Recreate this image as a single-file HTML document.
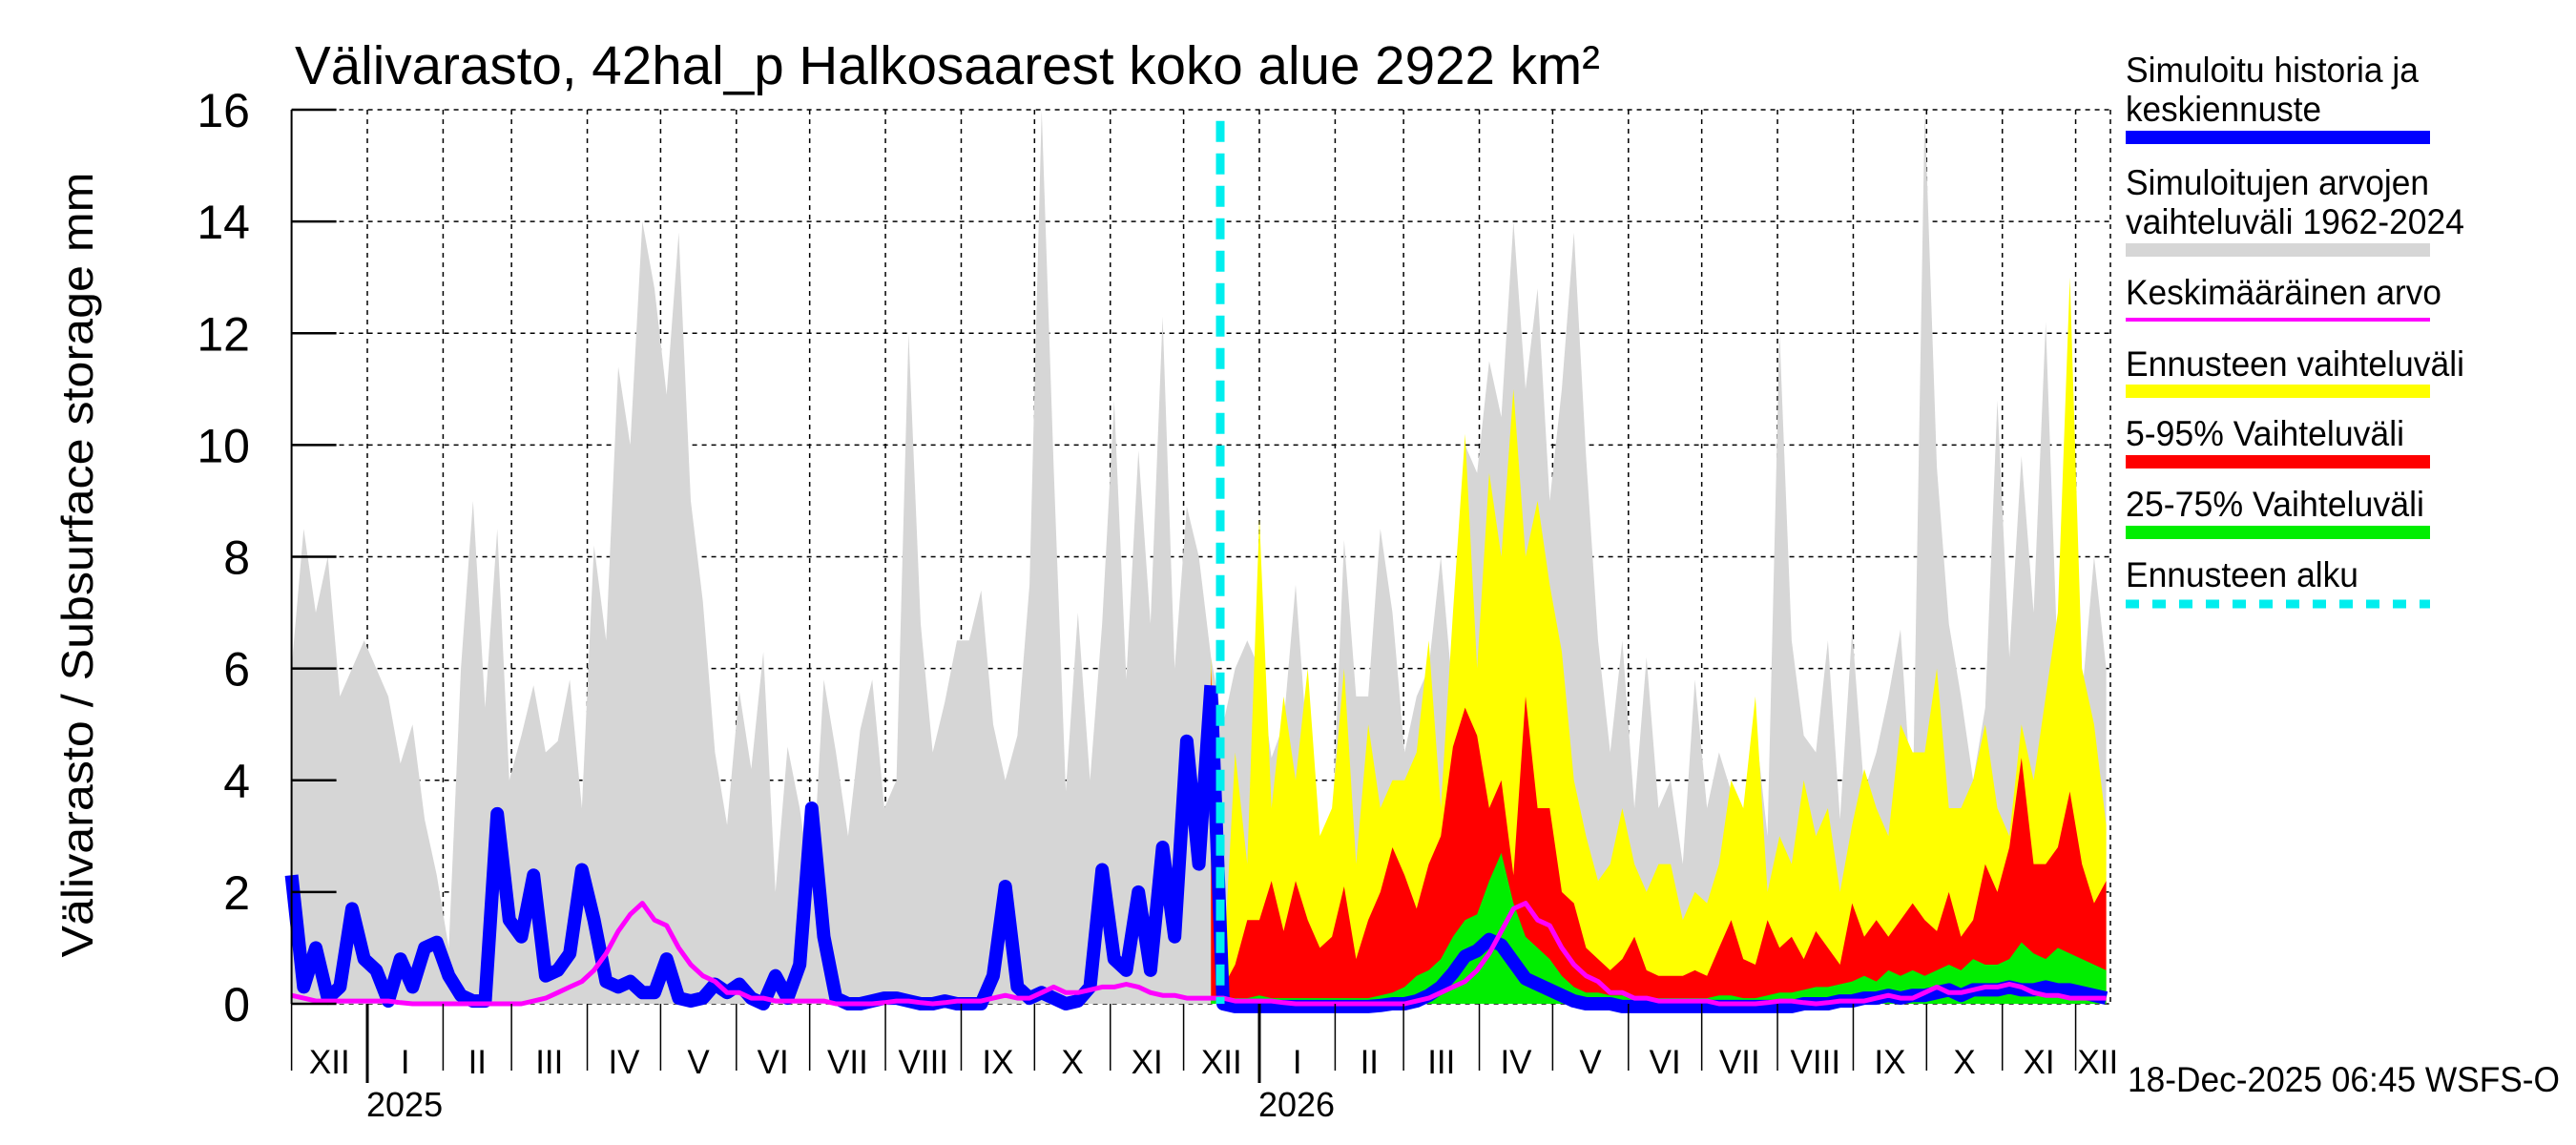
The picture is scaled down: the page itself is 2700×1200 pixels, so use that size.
<!DOCTYPE html>
<html><head><meta charset="utf-8"><style>
html,body{margin:0;padding:0;background:#fff;}
svg{display:block;font-family:"Liberation Sans",Arial,sans-serif;}
</style></head><body>
<svg id="chart" width="2700" height="1200" viewBox="0 0 2700 1200" xmlns="http://www.w3.org/2000/svg">
<text x="309" y="88" font-size="57" textLength="1368" lengthAdjust="spacingAndGlyphs">Välivarasto, 42hal_p Halkosaarest koko alue 2922 km²</text>
<text transform="translate(97,592) rotate(-90)" text-anchor="middle" font-size="46" textLength="823" lengthAdjust="spacingAndGlyphs">Välivarasto / Subsurface storage  mm</text>
<g id="grid"></g>
<g id="series"></g>
<g id="axes"></g>
<g font-size="37">
 <text x="2228" y="86" textLength="307" lengthAdjust="spacingAndGlyphs">Simuloitu historia ja</text>
 <text x="2228" y="127" textLength="205" lengthAdjust="spacingAndGlyphs">keskiennuste</text>
 <rect x="2228" y="137" width="319" height="14" fill="#0000ff"/>
 <text x="2228" y="204" textLength="318" lengthAdjust="spacingAndGlyphs">Simuloitujen arvojen</text>
 <text x="2228" y="245" textLength="355" lengthAdjust="spacingAndGlyphs">vaihteluväli 1962-2024</text>
 <rect x="2228" y="255" width="319" height="14" fill="#d6d6d6"/>
 <text x="2228" y="319" textLength="331" lengthAdjust="spacingAndGlyphs">Keskimääräinen arvo</text>
 <rect x="2228" y="333" width="319" height="4" fill="#ff00ff"/>
 <text x="2228" y="394" textLength="355" lengthAdjust="spacingAndGlyphs">Ennusteen vaihteluväli</text>
 <rect x="2228" y="403" width="319" height="14" fill="#ffff00"/>
 <text x="2228" y="467" textLength="292" lengthAdjust="spacingAndGlyphs">5-95% Vaihteluväli</text>
 <rect x="2228" y="477" width="319" height="14" fill="#ff0000"/>
 <text x="2228" y="541" textLength="313" lengthAdjust="spacingAndGlyphs">25-75% Vaihteluväli</text>
 <rect x="2228" y="551" width="319" height="14" fill="#00ee00"/>
 <text x="2228" y="615" textLength="244" lengthAdjust="spacingAndGlyphs">Ennusteen alku</text>
 <line x1="2228" y1="633" x2="2547" y2="633" stroke="#00eeee" stroke-width="9" stroke-dasharray="14,14"/>
</g>
<text x="2230" y="1144" font-size="37" textLength="453" lengthAdjust="spacingAndGlyphs">18-Dec-2025 06:45 WSFS-O</text>
</svg>
<script>
const yTicks = [0, 2, 4, 6, 8, 10, 12, 14, 16];
const monthLabels = ["XII","I","II","III","IV","V","VI","VII","VIII","IX","X","XI","XII","I","II","III","IV","V","VI","VII","VIII","IX","X","XI","XII"];
const monthDays = [31,31,28,31,30,31,30,31,31,30,31,30,31,31,28,31,30,31,30,31,31,30,31,30,31];
const yearLabels = ["2025","2026"];
const yearStartMonth = [1, 13];
const stepDays = 4.95;
const forecastStartDay = 380;
const forecastStartIndex = 76;
const grayMax = [6,8.5,7,8,5.5,6,6.5, 6,5.5,4.3,5,3.3,2.3, 1,6,9,5.3,8.5,4, 4.8,5.7,4.5,4.7,5.8,3.5, 8.2,6.5,11.4,10,14,12.8, 10.9,13.8,9,7.2,4.5,3.2, 5.6,4.2,6.3,2,4.6,3.5, 2,5.8,4.5,3,4.9,5.8,3.5, 4,12,6.8,4.5,5.4,6.5, 6.5,7.4,5,4,4.8,7.5, 16,9.6,3.8,7,4,6.8, 10.8,5.8,9.9,6.8,12.3,6, 8.9,8,6.2,5,6,6.5,
 6,4.4,5,7.5,4.5,3, 3,8.3,5.5,5.5,8.5,7, 4.5,5.5,6,8,5.5,10, 9.5,11.5,10.5,14,11,12.8, 9,11,13.8,9.8,6.5,4.5, 6.5,3.5,6.2,3.5,4,2.5, 5.8,3.5,4.5,3.8,2.5,5,3, 12,6.5,4.8,4.5,6.5,3.3, 6.7,3.8,4.5,5.5,6.7,3.4, 16,9.6,6.8,5.5,4,5.3, 10.8,6.2,9.8,7,12.2,6, 8.9,5.5,8,6];
const historyBlue = [2.3,0.3,1.0,0.1,0.3,1.7,0.8, 0.6,0.05,0.8,0.3,1.0,1.1, 0.5,0.15,0.05,0.05,3.4,1.5, 1.2,2.3,0.5,0.6,0.9,2.4, 1.5,0.4,0.3,0.4,0.2,0.2, 0.8,0.1,0.05,0.1,0.35,0.2, 0.35,0.1,0.0,0.5,0.1,0.7, 3.5,1.2,0.1,0,0,0.05,0.1, 0.1,0.05,0,0,0.05,0, 0,0,0.5,2.1,0.3,0.1, 0.2,0.1,0,0.05,0.3,2.4, 0.8,0.6,2.0,0.6,2.8,1.2, 4.7,2.5,5.7];
const meanValues = [0.15,0.1,0.05,0.05,0.05,0.05,0.05, 0.05,0.05,0.02,0,0,0, 0,0,0,0,0,0, 0,0.05,0.1,0.2,0.3,0.4, 0.6,0.9,1.3,1.6,1.8,1.5, 1.4,1.0,0.7,0.5,0.4,0.2, 0.2,0.1,0.1,0.05,0.05,0.05, 0.05,0.05,0,0,0,0,0.02, 0.05,0.05,0.02,0,0.02,0.05, 0.05,0.05,0.1,0.15,0.1,0.1, 0.2,0.3,0.2,0.2,0.25,0.3, 0.3,0.35,0.3,0.2,0.15,0.15, 0.1,0.1,0.1,0.1,0.05,0.05,
 0.05,0.05,0.02,0,0,0, 0,0,0,0,0,0, 0,0.05,0.1,0.2,0.3,0.4, 0.6,0.9,1.3,1.7,1.8,1.5, 1.4,1.0,0.7,0.5,0.4,0.2, 0.2,0.1,0.1,0.05,0.05,0.05, 0.05,0.05,0,0,0,0,0.02, 0.05,0.05,0.02,0,0.02,0.05, 0.05,0.05,0.1,0.15,0.1,0.1, 0.2,0.3,0.2,0.2,0.25,0.3, 0.3,0.35,0.3,0.2,0.15,0.15, 0.1,0.1,0.1,0.1];
const forecastMax = [6.2,0.5,4.5,2.5, 8.7,3.5,5.5,4,6,3, 3.5,6,2.5,5,3.5,4, 4,4.5,6.5,3.5,7,10.2, 6,9.5,8,11,8,9, 7.5,6.3,4,3,2.2,2.5, 3.5,2.5,2,2.5,2.5,1.5, 2,1.8,2.5,4,3.5,5.5,2, 3,2.5,4,3,3.5,2, 3.2,4.2,3.5,3,5,4.5, 4.5,6,3.5,3.5,4,5, 3.5,3,5,4,5.5,7, 13,6,5,3.2];
const forecastP95 = [6,0.3,0.7,1.5, 1.5,2.2,1.3,2.2,1.5,1.0, 1.2,2.1,0.8,1.5,2.0,2.8, 2.3,1.7,2.5,3.0,4.6,5.3, 4.8,3.5,4,2.3,5.5,3.5, 3.5,2,1.8,1.0,0.8,0.6, 0.8,1.2,0.6,0.5,0.5,0.5, 0.6,0.5,1.0,1.5,0.8,0.7,1.5, 1.0,1.2,0.8,1.3,1.0,0.7, 1.8,1.2,1.5,1.2,1.5,1.8, 1.5,1.3,2.0,1.2,1.5,2.5, 2.0,2.8,4.4,2.5,2.5,2.8, 3.8,2.5,1.8,2.2];
const forecastP75 = [0.1,0.1,0.1,0.1, 0.15,0.1,0.1,0.1,0.1,0.1, 0.1,0.1,0.1,0.1,0.15,0.2, 0.3,0.5,0.6,0.8,1.2,1.5, 1.6,2.2,2.7,1.8,1.2,1.0, 0.8,0.5,0.3,0.2,0.2,0.15, 0.15,0.1,0.1,0.1,0.1,0.1, 0.1,0.1,0.15,0.15,0.1,0.1,0.15, 0.2,0.2,0.25,0.3,0.3,0.35, 0.4,0.5,0.4,0.6,0.5,0.6, 0.5,0.6,0.7,0.6,0.8,0.7, 0.7,0.8,1.1,0.9,0.8,1.0, 0.9,0.8,0.7,0.6];
const forecastMedian = [5.7,0.05,0,0, 0,0,0,0,0,0, 0,0,0,0,0.02,0.05, 0.05,0.1,0.2,0.35,0.6,0.9, 1.0,1.2,1.1,0.8,0.5,0.4, 0.3,0.2,0.1,0.05,0.05,0.05, 0,0,0,0,0,0, 0,0,0,0,0,0,0, 0,0,0.05,0.05,0.05,0.1, 0.1,0.15,0.15,0.2,0.15,0.2, 0.2,0.25,0.3,0.2,0.3,0.3, 0.3,0.35,0.3,0.3,0.35,0.3, 0.3,0.25,0.2,0.15];

const X0 = 305.6, PXD = 2.5616, Y0 = 1052, PXU = 58.5625, TOP = 115, RIGHT = 2212;
const NS = "http://www.w3.org/2000/svg";
function xDay(d){ return X0 + d*PXD; }
function xIdx(i){ return Math.min(RIGHT, xDay(i*stepDays)); }
function yVal(v){ return Y0 - v*PXU; }
function mk(tag, attrs, parent){ const e=document.createElementNS(NS,tag); for(const k in attrs) e.setAttribute(k,attrs[k]); parent.appendChild(e); return e; }
function area(vals, start, color, name, parent){
  let d = "M"+xIdx(start)+","+yVal(0);
  vals.forEach((v,k)=>{ d += " L"+xIdx(start+k).toFixed(1)+","+yVal(Math.min(v,16)).toFixed(1); });
  d += " L"+xIdx(start+vals.length-1)+","+yVal(0)+" Z";
  const p = mk("path",{d:d,fill:color},parent);
  
  
}
function line(vals, start, color, w, name, parent){
  let d = "";
  vals.forEach((v,k)=>{ d += (k?" L":"M")+xIdx(start+k).toFixed(1)+","+yVal(v).toFixed(1); });
  const p = mk("path",{d:d,fill:"none",stroke:color,"stroke-width":w,"stroke-linejoin":"round"},parent);
  
  
}
const grid = document.getElementById("grid");
const series = document.getElementById("series");
const axes = document.getElementById("axes");

yTicks.forEach(t=>{
  const g = mk("line",{x1:X0,x2:RIGHT,y1:yVal(t),y2:yVal(t),stroke:"#000","stroke-width":1.5,"stroke-dasharray":"5,5"},grid);
  
  
});
let cum = 0; const bounds=[0];
monthDays.forEach(m=>{ cum+=m; bounds.push(cum); });
bounds.forEach((b,i)=>{
  if(i===0) return;
  const x = xDay(b); if (x>RIGHT) return;
  const g = mk("line",{x1:x,x2:x,y1:TOP,y2:Y0,stroke:"#000","stroke-width":1.5,"stroke-dasharray":"5,5"},grid);
  
  
});
mk("line",{x1:RIGHT,x2:RIGHT,y1:TOP,y2:Y0,stroke:"#000","stroke-width":1.5,"stroke-dasharray":"5,5"},grid);

area(grayMax, 0, "#d6d6d6", "historical-range-area", series);
area(forecastMax, forecastStartIndex, "#ffff00", "forecast-range-area", series);
area(forecastP95, forecastStartIndex, "#ff0000", "forecast-5-95-area", series);
area(forecastP75, forecastStartIndex, "#00ee00", "forecast-25-75-area", series);
line(historyBlue, 0, "#0000ff", 14, "history-line", series);
line(forecastMedian.map(v=>v-0.05), forecastStartIndex, "#0000ff", 14, "forecast-median-line", series);
line(meanValues, 0, "#ff00ff", 5, "mean-line", series);
const fs = mk("line",{x1:xDay(forecastStartDay),x2:xDay(forecastStartDay),y1:yVal(15.8),y2:Y0,stroke:"#00eeee","stroke-width":9,"stroke-dasharray":"22,12"},series);



const ax = mk("line",{x1:X0,x2:X0,y1:TOP,y2:Y0,stroke:"#000","stroke-width":2},axes);


yTicks.forEach(t=>{
  const tk = mk("line",{x1:X0,x2:X0+47,y1:yVal(t),y2:yVal(t),stroke:"#000","stroke-width":2.5},axes);
  
  
  const tl = mk("text",{x:262,y:yVal(t)+18,"text-anchor":"end","font-size":50},axes);
  tl.textContent = String(t);
  
  
});
bounds.forEach((b,i)=>{
  const x = xDay(b); if (x>RIGHT+1) return;
  const isYear = yearStartMonth.includes(i);
  const tk = mk("line",{x1:x,x2:x,y1:Y0,y2:isYear?1135:1122,stroke:"#000","stroke-width":isYear?3:1.5},axes);
  
  
});
monthLabels.forEach((m,i)=>{
  const x0 = xDay(bounds[i]), x1 = Math.min(RIGHT+10, xDay(bounds[i+1]));
  const t = mk("text",{x:((x0+x1)/2).toFixed(1),y:1125,"text-anchor":"middle","font-size":35},axes);
  t.textContent = m;
  
  
});
yearLabels.forEach((yl,i)=>{
  const t = mk("text",{x:xDay(bounds[yearStartMonth[i]])-1,y:1170,"font-size":36},axes);
  t.textContent = yl;
  
  
});
</script>
</body></html>
